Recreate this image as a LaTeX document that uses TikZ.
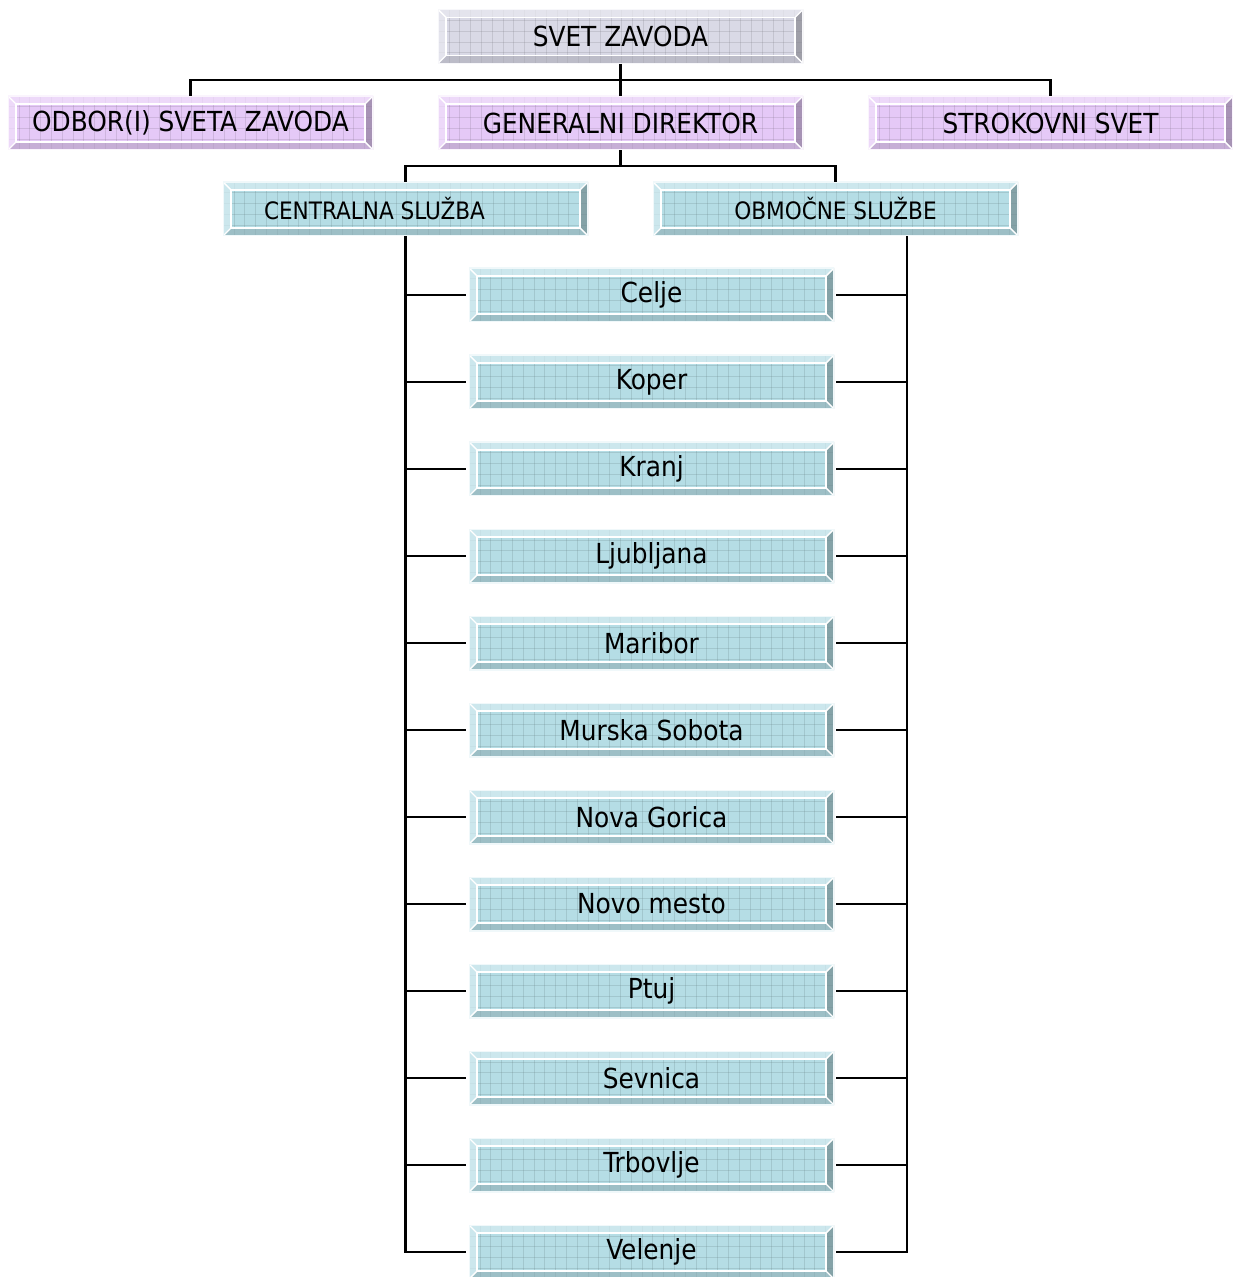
\documentclass[tikz,border=0pt]{standalone}
\usepackage{fontspec}
\setmainfont{DejaVu Sans Condensed}
\usetikzlibrary{calc}
\definecolor{cgray}{HTML}{D9D9E6}
\definecolor{cpurp}{HTML}{E5C9F7}
\definecolor{cteal}{HTML}{B5DDE5}
\tikzset{
  bbox/.style={rectangle, minimum width=182.5pt, minimum height=27pt, inner sep=0pt, fill=#1,
    font=\fontsize{13.8}{16}\selectfont,
    path picture={
      \foreach \i in {1,...,34}
        \draw[#1!55!black, opacity=.22, line width=.3pt]
          ([xshift=\i*5.4pt]path picture bounding box.south west) -- ([xshift=\i*5.4pt]path picture bounding box.north west);
      \foreach \j in {1,...,4}
        \draw[#1!55!black, opacity=.22, line width=.3pt]
          ([yshift=\j*5.4pt]path picture bounding box.south west) -- ([yshift=\j*5.4pt]path picture bounding box.south east);
      \fill[#1!55!white, opacity=.7] (path picture bounding box.north west) -- (path picture bounding box.north east)
        -- ([shift={(-4pt,-4pt)}]path picture bounding box.north east) -- ([shift={(4pt,-4pt)}]path picture bounding box.north west) -- cycle;
      \fill[#1!55!white, opacity=.7] (path picture bounding box.north west) -- (path picture bounding box.south west)
        -- ([shift={(4pt,4pt)}]path picture bounding box.south west) -- ([shift={(4pt,-4pt)}]path picture bounding box.north west) -- cycle;
      \fill[#1!78!black, opacity=.6] (path picture bounding box.south west) -- (path picture bounding box.south east)
        -- ([shift={(-4pt,4pt)}]path picture bounding box.south east) -- ([shift={(4pt,4pt)}]path picture bounding box.south west) -- cycle;
      \fill[#1!62!black, opacity=.7] (path picture bounding box.north east) -- (path picture bounding box.south east)
        -- ([shift={(-4pt,4pt)}]path picture bounding box.south east) -- ([shift={(-4pt,-4pt)}]path picture bounding box.north east) -- cycle;
      \draw[white, line width=.9pt] ([shift={(4pt,4pt)}]path picture bounding box.south west) rectangle ([shift={(-4pt,-4pt)}]path picture bounding box.north east);
      \draw[white, line width=.7pt]
        (path picture bounding box.north west) -- ([shift={(4pt,-4pt)}]path picture bounding box.north west)
        (path picture bounding box.south west) -- ([shift={(4pt,4pt)}]path picture bounding box.south west)
        (path picture bounding box.north east) -- ([shift={(-4pt,-4pt)}]path picture bounding box.north east)
        (path picture bounding box.south east) -- ([shift={(-4pt,4pt)}]path picture bounding box.south east);
      \draw[white!80!#1, line width=.8pt] (path picture bounding box.south west) rectangle (path picture bounding box.north east);
    }},
  small/.style={font=\fontsize{12}{14}\selectfont},
  conn/.style={draw=black, line width=1.1pt},
}
\begin{document}
\begin{tikzpicture}[x=0.5pt, y=-0.5pt]
\useasboundingbox (0,0) rectangle (1232,1277);
\node[bbox=cgray] (svet) at (620.5,36.5) {SVET ZAVODA};
\node[bbox=cpurp] (odbor) at (190.5,123) {ODBOR(I) SVETA ZAVODA};
\node[bbox=cpurp] (gd) at (620.5,123) {GENERALNI DIREKTOR};
\node[bbox=cpurp] (strok) at (1050.5,123) {STROKOVNI SVET};
\node[bbox=cteal, small] (cs) at (405.5,209) {\hspace*{-31pt}CENTRALNA SLUŽBA};
\node[bbox=cteal, small] (os) at (835.5,209) {OBMOČNE SLUŽBE};
\foreach \n/\t [count=\k from 0] in {c1/Celje, c2/Koper, c3/Kranj, c4/Ljubljana, c5/Maribor, c6/Murska Sobota, c7/Nova Gorica, c8/Novo mesto, c9/Ptuj, c10/Sevnica, c11/Trbovlje, c12/Velenje}
  \node[bbox=cteal] (\n) at (651.5,295+87*\k) {\t};
\coordinate (bar1) at (620.5,80);
\coordinate (bar2) at (620.5,166);
\coordinate (osR) at ([xshift=35.75pt]os.south);
\draw[conn] (svet.south) -- (gd.north);
\draw[conn] (odbor.north) |- (bar1) -| (strok.north);
\draw[conn] (gd.south) -- (bar2);
\draw[conn] (cs.north) |- (bar2) -| (os.north);
\draw[conn] (cs.south) |- ([xshift=-1.5pt]c12.west);
\draw[conn] (osR) |- ([xshift=1pt]c12.east);
\foreach \n in {c1,c2,c3,c4,c5,c6,c7,c8,c9,c10,c11}{
  \draw[conn] (cs.south |- \n.west) -- ([xshift=-1.5pt]\n.west);
  \draw[conn] (osR |- \n.east) -- ([xshift=1pt]\n.east);
}
\end{tikzpicture}
\end{document}
